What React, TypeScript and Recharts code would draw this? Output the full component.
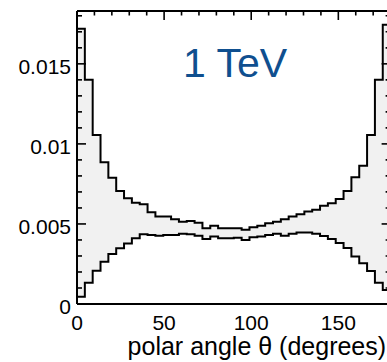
import React from 'react';
import { ComposedChart, Area, Line, XAxis, YAxis } from 'recharts';

// Bin low edges (degrees), 40 bins of 4.5 degrees; last edge closes the histogram
const binLowEdges = [
  0, 4.5, 9, 13.5, 18, 22.5, 27, 31.5, 36, 40.5,
  45, 49.5, 54, 58.5, 63, 67.5, 72, 76.5, 81, 85.5,
  90, 94.5, 99, 103.5, 108, 112.5, 117, 121.5, 126, 130.5,
  135, 139.5, 144, 148.5, 153, 157.5, 162, 166.5, 171, 175.5,
];
const lastEdge = 180;

// Upper envelope of the band
const upperBand = [
  0.01719, 0.0140, 0.01056, 0.00886, 0.00789, 0.00706, 0.00661, 0.00633, 0.00623, 0.00573,
  0.00546, 0.00546, 0.00529, 0.00513, 0.00519, 0.00508, 0.00473, 0.00489, 0.00473, 0.00473,
  0.00473, 0.00463, 0.00479, 0.00489, 0.00504, 0.00514, 0.00529, 0.00546, 0.00561, 0.00577,
  0.00588, 0.00613, 0.00629, 0.00656, 0.00706, 0.00792, 0.00863, 0.01056, 0.0140, 0.01744,
];

// Lower envelope of the band
const lowerBand = [
  0.00046, 0.00133, 0.00208, 0.00264, 0.00313, 0.00348, 0.00378, 0.00411, 0.00436, 0.00431,
  0.00427, 0.00431, 0.00431, 0.00438, 0.00436, 0.00427, 0.00406, 0.00421, 0.00411, 0.00411,
  0.00414, 0.00400, 0.00417, 0.00422, 0.00431, 0.00438, 0.00427, 0.00438, 0.00446, 0.00446,
  0.00438, 0.00425, 0.00406, 0.00381, 0.00350, 0.00296, 0.00254, 0.00206, 0.00133, 0.00088,
];

const xMajorTicks = [0, 50, 100, 150];
const xMinorTicks = [10, 20, 30, 40, 60, 70, 80, 90, 110, 120, 130, 140, 160, 170, 180];
const yMajorTicks = [0, 0.005, 0.01, 0.015];
const yMajorLabels = ['0', '0.005', '0.01', '0.015'];
const yMinorTicks = [
  0.001, 0.002, 0.003, 0.004, 0.006, 0.007, 0.008, 0.009,
  0.011, 0.012, 0.013, 0.014, 0.016, 0.017, 0.018,
];
const yDomain = [0, 0.0183];
const xDomain = [0, 180];
const chartTitle = '1 TeV';
const xAxisTitle = 'polar angle θ (degrees)';

const FONT = '"Liberation Sans", Arial, Helvetica, sans-serif';

const data = binLowEdges.map((x, i) => ({
  x,
  upper: upperBand[i],
  lower: lowerBand[i],
  band: [lowerBand[i], upperBand[i]],
}));
data.push({
  x: lastEdge,
  upper: upperBand[upperBand.length - 1],
  lower: lowerBand[lowerBand.length - 1],
  band: [lowerBand[lowerBand.length - 1], upperBand[upperBand.length - 1]],
});

const allXTicks = [...xMajorTicks, ...xMinorTicks].sort((a, b) => a - b);
const allYTicks = [...yMajorTicks, ...yMinorTicks].sort((a, b) => a - b);

const majorYIndex = (v: number) => yMajorTicks.findIndex((t) => Math.abs(t - v) < 1e-9);
const isMajorX = (v: number) => xMajorTicks.some((t) => Math.abs(t - v) < 1e-9);

const LeftTick = (props: any) => {
  const { x, y, payload } = props;
  const idx = majorYIndex(payload.value);
  const major = idx >= 0;
  return (
    <g>
      <line x1={x} x2={x + (major ? 9 : 5)} y1={y} y2={y} stroke="#000" strokeWidth={1.6} />
      {major && (
        <text
          x={x - 6}
          y={y + 2.5}
          dy="0.355em"
          textAnchor="end"
          fontSize={21}
          fontFamily={FONT}
          fill="#000"
          stroke="none"
        >
          {yMajorLabels[idx]}
        </text>
      )}
    </g>
  );
};

const RightTick = (props: any) => {
  const { x, y, payload } = props;
  const major = majorYIndex(payload.value) >= 0;
  return <line x1={x} x2={x - (major ? 9 : 5)} y1={y} y2={y} stroke="#000" strokeWidth={1.6} />;
};

const TopTick = (props: any) => {
  const { x, y, payload } = props;
  const major = isMajorX(payload.value);
  return <line x1={x} x2={x} y1={y} y2={y + (major ? 9 : 4.5)} stroke="#000" strokeWidth={1.6} />;
};

const BottomTick = (props: any) => {
  const { x, y, payload } = props;
  return (
    <text
      x={x}
      y={y + 11}
      dy="0.71em"
      textAnchor="middle"
      fontSize={21}
      fontFamily={FONT}
      fill="#000"
      stroke="none"
    >
      {String(payload.value)}
    </text>
  );
};

const XTitle = (props: any) => {
  const vb = props.viewBox || { x: 0, y: 0, width: 0, height: 0 };
  return (
    <text
      x={vb.x + vb.width - 4.5}
      y={vb.y + 51}
      textAnchor="end"
      fontSize={25}
      fontFamily={FONT}
      fill="#000"
      stroke="none"
    >
      {xAxisTitle}
    </text>
  );
};

export default function App() {
  return (
    <div style={{ position: 'absolute', left: 0, top: 0, width: 387, height: 362, overflow: 'hidden', background: '#fff' }}>
      <ComposedChart
        width={400}
        height={362}
        data={data}
        margin={{ top: 10, right: 8.4, bottom: 0, left: 0 }}
      >
        <XAxis
          xAxisId="bottom"
          dataKey="x"
          type="number"
          domain={xDomain}
          ticks={xMajorTicks}
          interval={0}
          height={58}
          tickLine={false}
          tickSize={0}
          tickMargin={0}
          axisLine={{ stroke: '#000', strokeWidth: 2 }}
          tick={<BottomTick />}
          allowDataOverflow
          label={<XTitle />}
        />
        <XAxis
          xAxisId="top"
          orientation="top"
          dataKey="x"
          type="number"
          domain={xDomain}
          ticks={allXTicks}
          interval={0}
          height={1}
          tickLine={false}
          tickSize={0}
          tickMargin={0}
          axisLine={{ stroke: '#000', strokeWidth: 2 }}
          tick={<TopTick />}
          allowDataOverflow
        />
        <YAxis
          yAxisId="left"
          type="number"
          domain={yDomain}
          ticks={allYTicks}
          interval={0}
          width={77}
          tickLine={false}
          tickSize={0}
          tickMargin={0}
          axisLine={{ stroke: '#000', strokeWidth: 2 }}
          tick={<LeftTick />}
          allowDataOverflow
        />
        <YAxis
          yAxisId="right"
          orientation="right"
          type="number"
          domain={yDomain}
          ticks={allYTicks}
          interval={0}
          width={1}
          tickLine={false}
          tickSize={0}
          tickMargin={0}
          axisLine={{ stroke: '#000', strokeWidth: 2 }}
          tick={<RightTick />}
          allowDataOverflow
        />
        <Area
          xAxisId="bottom"
          yAxisId="left"
          dataKey="band"
          type="stepAfter"
          fill="#f1f1f1"
          fillOpacity={1}
          stroke="none"
          isAnimationActive={false}
        />
        <Line
          xAxisId="bottom"
          yAxisId="left"
          dataKey="upper"
          type="stepAfter"
          stroke="#000"
          strokeWidth={2}
          dot={false}
          isAnimationActive={false}
        />
        <Line
          xAxisId="bottom"
          yAxisId="left"
          dataKey="lower"
          type="stepAfter"
          stroke="#000"
          strokeWidth={2}
          dot={false}
          isAnimationActive={false}
        />
        <text x={183} y={77} fontSize={41} fontFamily={FONT} fill="#0f4f8f">
          {chartTitle}
        </text>
      </ComposedChart>
    </div>
  );
}
